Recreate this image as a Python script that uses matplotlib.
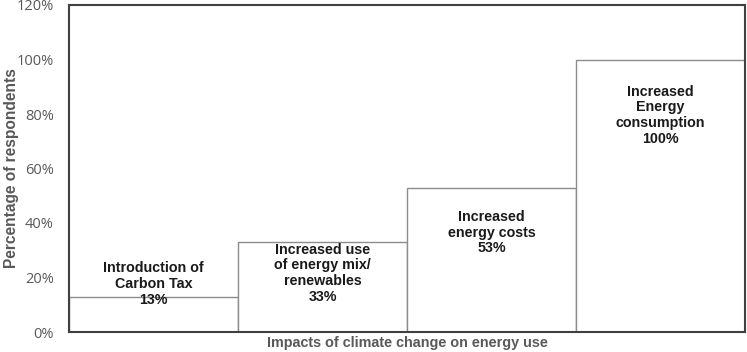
"""
Impacts of climate change on energy use -- step-style bar chart with the
category text written inside each bar.
"""
import matplotlib
matplotlib.use("Agg")
import matplotlib.pyplot as plt
from matplotlib.ticker import PercentFormatter

CATEGORIES = [
    "Introduction of\nCarbon Tax",
    "Increased use\nof energy mix/\nrenewables",
    "Increased\nenergy costs",
    "Increased\nEnergy\nconsumption",
]
VALUES = [13, 33, 53, 100]          # % of respondents
Y_TICKS = [0, 20, 40, 60, 80, 100, 120]

# vertical centre of each in-bar label (data units)
LABEL_Y = [17.5, 21.5, 36.5, 79.5]

GREY = "#595959"
FRAME = "#404040"


def main():
    fig = plt.figure(figsize=(7.47, 3.52), dpi=100)
    ax = fig.add_axes([69 / 747, 20 / 352, 676 / 747, 327 / 352])

    x = list(range(len(VALUES)))
    ax.bar(x, VALUES, width=1.0, color="white", edgecolor="#8c8c8c",
           linewidth=1.0, zorder=2)
    for xi, lab, v, ly in zip(x, CATEGORIES, VALUES, LABEL_Y):
        ax.text(xi, ly, f"{lab}\n{v}%", ha="center", va="center",
                fontsize=10.3, fontweight="bold", color="#1a1a1a",
                family="Liberation Sans", linespacing=1.17, zorder=3)

    ax.set_xlim(-0.5, len(VALUES) - 0.5)
    ax.set_ylim(0, 120)
    ax.set_yticks(Y_TICKS)
    ax.yaxis.set_major_formatter(PercentFormatter(decimals=0))
    ax.set_xticks([])
    ax.tick_params(axis="y", length=0, pad=11, labelsize=10.5, labelcolor=GREY)
    for t in ax.get_yticklabels():
        t.set_family("Open Sans")
    for s in ax.spines.values():
        s.set_color(FRAME)
        s.set_linewidth(1.5)
        s.set_zorder(4)

    ax.set_ylabel("Percentage of respondents", fontsize=11.2, fontweight="bold",
                  color=GREY, family="Liberation Sans")
    ax.yaxis.set_label_coords(-0.074, 0.5)
    ax.set_xlabel("Impacts of climate change on energy use", fontsize=10.4,
                  fontweight="bold", color=GREY, family="Liberation Sans",
                  labelpad=3)

    fig.savefig("out.png", dpi=100, facecolor="white")


if __name__ == "__main__":
    main()
